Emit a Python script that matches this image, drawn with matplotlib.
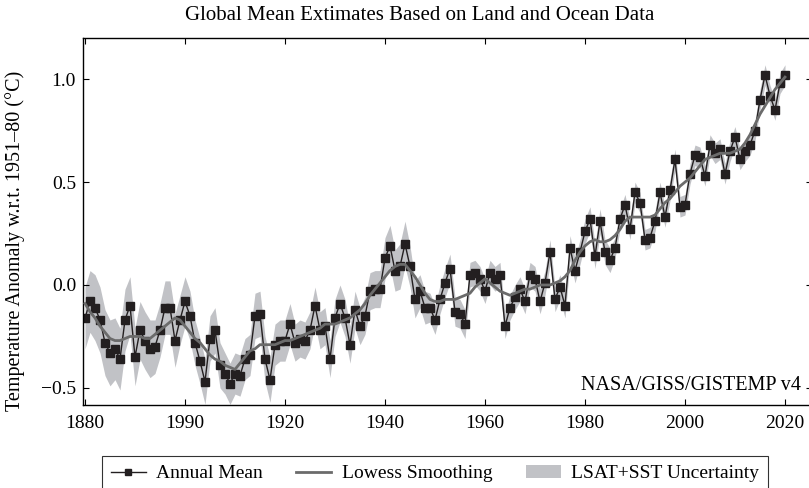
import numpy as np
import matplotlib

matplotlib.use('Agg')
import matplotlib.pyplot as plt
from matplotlib.lines import Line2D
from matplotlib.patches import Patch

# Data (GISTEMP v4, anomaly w.r.t. 1951-80)
years = np.arange(1880, 2021)

annual_mean = [
    -0.16, -0.08, -0.11, -0.17, -0.28, -0.33, -0.31, -0.36, -0.17, -0.10,
    -0.35, -0.22, -0.27, -0.31, -0.30, -0.22, -0.11, -0.11, -0.27, -0.17,
    -0.08, -0.15, -0.28, -0.37, -0.47, -0.26, -0.22, -0.39, -0.43, -0.48,
    -0.43, -0.44, -0.36, -0.34, -0.15, -0.14, -0.36, -0.46, -0.29, -0.27,
    -0.27, -0.19, -0.28, -0.26, -0.27, -0.22, -0.10, -0.22, -0.20, -0.36,
    -0.16, -0.09, -0.16, -0.29, -0.12, -0.20, -0.15, -0.03, -0.02, -0.02,
    0.13, 0.19, 0.07, 0.09, 0.20, 0.09, -0.07, -0.03, -0.11, -0.11,
    -0.17, -0.07, 0.01, 0.08, -0.13, -0.14, -0.19, 0.05, 0.06, 0.03,
    -0.03, 0.06, 0.03, 0.05, -0.20, -0.11, -0.06, -0.02, -0.08, 0.05,
    0.03, -0.08, 0.01, 0.16, -0.07, -0.01, -0.10, 0.18, 0.07, 0.16,
    0.26, 0.32, 0.14, 0.31, 0.16, 0.12, 0.18, 0.32, 0.39, 0.27,
    0.45, 0.40, 0.22, 0.23, 0.31, 0.45, 0.33, 0.46, 0.61, 0.38,
    0.39, 0.54, 0.63, 0.62, 0.53, 0.68, 0.64, 0.66, 0.54, 0.65,
    0.72, 0.61, 0.65, 0.68, 0.75, 0.90, 1.02, 0.92, 0.85, 0.98,
    1.02,
]

lowess = [
    -0.09, -0.13, -0.16, -0.20, -0.23, -0.26, -0.27, -0.27, -0.26, -0.25,
    -0.25, -0.25, -0.26, -0.26, -0.24, -0.22, -0.20, -0.18, -0.16, -0.17,
    -0.20, -0.23, -0.26, -0.28, -0.31, -0.34, -0.36, -0.37, -0.39, -0.40,
    -0.41, -0.38, -0.35, -0.32, -0.31, -0.29, -0.29, -0.29, -0.29, -0.28,
    -0.27, -0.27, -0.26, -0.25, -0.24, -0.23, -0.22, -0.21, -0.19, -0.19,
    -0.19, -0.18, -0.17, -0.16, -0.14, -0.12, -0.09, -0.05, -0.02, 0.01,
    0.04, 0.07, 0.09, 0.10, 0.10, 0.07, 0.04, 0.00, -0.04, -0.07,
    -0.08, -0.08, -0.07, -0.07, -0.07, -0.06, -0.05, -0.04, -0.01, 0.01,
    0.03, 0.01, -0.01, -0.03, -0.04, -0.05, -0.04, -0.03, -0.02, -0.02,
    -0.01, 0.00, 0.00, 0.00, 0.01, 0.02, 0.04, 0.07, 0.12, 0.16,
    0.19, 0.21, 0.22, 0.21, 0.21, 0.22, 0.24, 0.27, 0.31, 0.33,
    0.33, 0.33, 0.33, 0.33, 0.34, 0.37, 0.40, 0.42, 0.45, 0.48,
    0.50, 0.52, 0.55, 0.58, 0.61, 0.62, 0.63, 0.64, 0.64, 0.64,
    0.65, 0.66, 0.69, 0.73, 0.78, 0.83, 0.87, 0.91, 0.95, 0.98,
    1.01,
]

# half-width of the LSAT+SST uncertainty band
uncertainty = [
    0.15, 0.15, 0.16, 0.16, 0.16, 0.16, 0.15, 0.15, 0.15, 0.14,
    0.14, 0.14, 0.14, 0.14, 0.13, 0.13, 0.13, 0.13, 0.13, 0.12,
    0.12, 0.12, 0.11, 0.11, 0.11, 0.11, 0.11, 0.11, 0.10, 0.10,
    0.10, 0.10, 0.10, 0.10, 0.11, 0.11, 0.11, 0.11, 0.10, 0.10,
    0.10, 0.10, 0.09, 0.09, 0.09, 0.09, 0.09, 0.09, 0.09, 0.09,
    0.09, 0.09, 0.09, 0.09, 0.09, 0.09, 0.09, 0.09, 0.09, 0.09,
    0.10, 0.10, 0.10, 0.11, 0.11, 0.10, 0.09, 0.08, 0.08, 0.07,
    0.07, 0.07, 0.07, 0.07, 0.07, 0.07, 0.07, 0.06, 0.06, 0.06,
    0.06, 0.06, 0.06, 0.06, 0.06, 0.06, 0.06, 0.06, 0.06, 0.06,
    0.06, 0.06, 0.06, 0.06, 0.06, 0.06, 0.06, 0.06, 0.06, 0.06,
    0.06, 0.06, 0.06, 0.06, 0.06, 0.06, 0.05, 0.05, 0.05, 0.05,
    0.05, 0.05, 0.05, 0.05, 0.05, 0.05, 0.05, 0.05, 0.05, 0.05,
    0.05, 0.05, 0.05, 0.05, 0.05, 0.05, 0.05, 0.05, 0.05, 0.05,
    0.05, 0.05, 0.05, 0.05, 0.05, 0.05, 0.05, 0.05, 0.05, 0.05,
    0.05,
]

x_ticks = [1880, 1900, 1920, 1940, 1960, 1980, 2000, 2020]
x_tick_labels = ['1880', '1990', '1920', '1940', '1960', '1980', '2000', '2020']
y_ticks = [-0.5, 0.0, 0.5, 1.0]
y_tick_labels = ['\u22120.5', '0.0', '0.5', '1.0']

plt.rcParams.update({
    'font.family': ['Liberation Serif', 'DejaVu Serif'],
    'font.size': 14,
})

band_color = '#c1c2c6'
smooth_color = '#6b6b6b'
mean_color = '#231f20'

fig = plt.figure(figsize=(8.09, 4.88), dpi=100)
ax = fig.add_axes([83 / 809, 1 - 405 / 488, 729 / 809, 367 / 488])

mean = np.array(annual_mean)
unc = np.array(uncertainty)
ax.fill_between(years, mean - unc, mean + unc, color=band_color, lw=0, zorder=1)
ax.plot(years, mean, color=mean_color, lw=1.0, marker='s', markersize=5.2, zorder=2)
ax.plot(years, lowess, color=smooth_color, lw=2.0, zorder=3)

ax.set_xlim(1879.6, 2025.4)
ax.set_ylim(-0.583, 1.2)
ax.set_xticks(x_ticks)
ax.set_xticklabels(x_tick_labels)
ax.set_yticks(y_ticks)
ax.set_yticklabels(y_tick_labels)
ax.tick_params(direction='in', top=True, right=True, length=4, width=0.8,
               labelsize=14)
ax.tick_params(axis='x', pad=7)
ax.tick_params(axis='y', pad=5)
for sp in ax.spines.values():
    sp.set_linewidth(1.0)

ax.set_ylabel('Temperature Anomaly w.r.t. 1951\u201380 (\u00b0C)', fontsize=14.5, va='center')
ax.yaxis.set_label_coords(-0.093, 0.447)
ax.text(0.985, 0.054, 'NASA/GISS/GISTEMP v4', transform=ax.transAxes,
        ha='right', va='center', fontsize=14.5)

fig.text(420 / 809, 1 - 15 / 488, 'Global Mean Extimates Based on Land and Ocean Data',
         ha='center', va='center', fontsize=15)

handles = [
    Line2D([0], [0], color=mean_color, lw=1.0, marker='s', markersize=5),
    Line2D([0], [0], color=smooth_color, lw=2.0),
    Patch(facecolor=band_color, edgecolor='none'),
]
labels = ['Annual Mean', 'Lowess Smoothing', 'LSAT+SST Uncertainty']
leg = fig.legend(handles, labels, loc='upper center', bbox_to_anchor=(435 / 809, 1 - 456 / 488),
                 ncol=3, frameon=True, fancybox=False, edgecolor='black', fontsize=14,
                 handlelength=1.8, columnspacing=1.7, handletextpad=0.55, borderpad=0.45,
                 numpoints=1, borderaxespad=0)
leg.get_frame().set_linewidth(0.8)

fig.savefig('out.png', dpi=100)
